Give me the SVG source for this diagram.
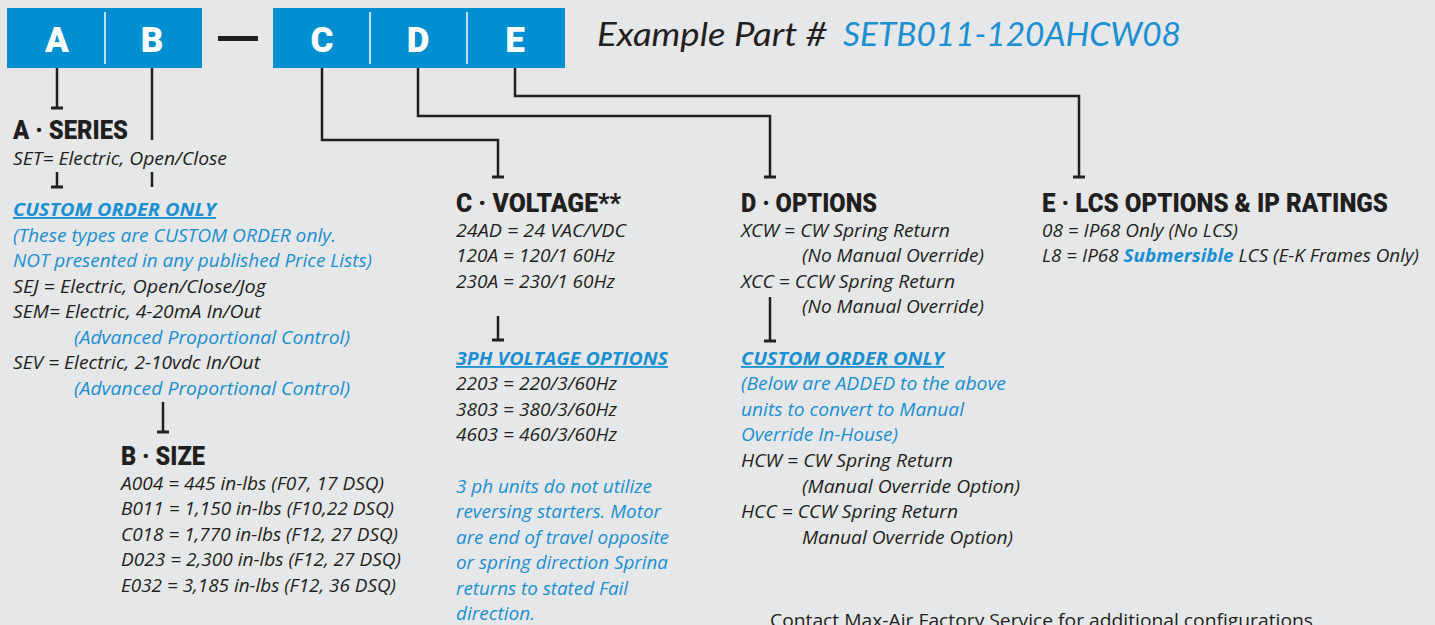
<svg xmlns="http://www.w3.org/2000/svg" width="1435" height="625" viewBox="0 0 1435 625">
<style>
.bg{fill:#e6e7e9}
.box{fill:#008fd0}
.div{stroke:#ffffff;stroke-width:1.5}
.let{font-family:Roboto,"Liberation Sans",sans-serif;font-weight:900;font-size:35px;fill:#ffffff;text-anchor:middle}
.hd{font-family:Roboto,"Liberation Sans",sans-serif;font-weight:900;font-size:26px;fill:#1f201d}
.t{font-family:"Open Sans","Liberation Sans",sans-serif;font-style:italic;font-size:18.5px;fill:#231f20}
.b{font-family:"Open Sans","Liberation Sans",sans-serif;font-style:italic;font-size:18.5px;fill:#1a8fd1}
.bu{font-family:"Open Sans","Liberation Sans",sans-serif;font-style:italic;font-weight:bold;font-size:18.5px;fill:#1a8fd1;text-decoration:underline}
.sb{font-weight:bold;fill:#1a8fd1}
.ex{font-family:Lato,"Liberation Sans",sans-serif;font-style:italic;font-size:32px}
.foot{font-family:"Open Sans","Liberation Sans",sans-serif;font-size:18px;fill:#231f20}
.cn{fill:none;stroke:#231f20;stroke-width:2.5}
.tb{stroke:#231f20;stroke-width:3}
</style>
<rect class="bg" x="0" y="0" width="1435" height="625"/>

<g id="code-box-ab">
<rect class="box" x="7" y="8" width="195" height="60"/>
<line class="div" x1="105" y1="12" x2="105" y2="64"/>
<text class="let" x="57" y="52">A</text>
<text class="let" x="152" y="52">B</text>
</g>
<g id="dash">
<rect x="218" y="36" width="40" height="5" fill="#1f201d"/>
</g>
<g id="code-box-cde">
<rect class="box" x="273" y="8" width="292" height="60"/>
<line class="div" x1="370" y1="12" x2="370" y2="64"/>
<line class="div" x1="467" y1="12" x2="467" y2="64"/>
<text class="let" x="322" y="52">C</text>
<text class="let" x="418" y="52">D</text>
<text class="let" x="515" y="52">E</text>
</g>
<g id="example">
<text class="ex" x="597" y="46" fill="#231f20" textLength="230" lengthAdjust="spacingAndGlyphs">Example Part #</text>
<text class="ex" x="843" y="46" fill="#1a8fd1" textLength="338" lengthAdjust="spacingAndGlyphs">SETB011-120AHCW08</text>
</g>

<g id="connectors">
<path class="cn" d="M57,68 V108"/>
<line class="tb" x1="51" y1="108" x2="63" y2="108"/>
<path class="cn" d="M152,68 V140"/>
<path class="cn" d="M57,172 V187"/>
<line class="tb" x1="51" y1="187" x2="63" y2="187"/>
<path class="cn" d="M152,172 V187"/>
<path class="cn" d="M163,402 V432"/>
<line class="tb" x1="157" y1="432" x2="169" y2="432"/>
<path class="cn" d="M322,68 V140 H498 V177"/>
<line class="tb" x1="492" y1="177" x2="504" y2="177"/>
<path class="cn" d="M418,68 V116 H770 V177"/>
<line class="tb" x1="764" y1="177" x2="776" y2="177"/>
<path class="cn" d="M515,68 V96 H1079 V177"/>
<line class="tb" x1="1073" y1="177" x2="1085" y2="177"/>
<path class="cn" d="M498,316 V340"/>
<line class="tb" x1="492" y1="340" x2="504" y2="340"/>
<path class="cn" d="M770,297 V341"/>
<line class="tb" x1="764" y1="341" x2="776" y2="341"/>
</g>

<g id="series-a">
<text class="hd" x="13" y="139" textLength="115" lengthAdjust="spacingAndGlyphs">A · SERIES</text>
<text class="t" x="13" y="165" textLength="214" lengthAdjust="spacingAndGlyphs">SET= Electric, Open/Close</text>
<text class="bu" x="13" y="216" textLength="203" lengthAdjust="spacingAndGlyphs">CUSTOM ORDER ONLY</text>
<text class="b" x="13" y="242" textLength="323" lengthAdjust="spacingAndGlyphs">(These types are CUSTOM ORDER only.</text>
<text class="b" x="13" y="267" textLength="359" lengthAdjust="spacingAndGlyphs">NOT presented in any published Price Lists)</text>
<text class="t" x="13" y="293" textLength="253" lengthAdjust="spacingAndGlyphs">SEJ = Electric, Open/Close/Jog</text>
<text class="t" x="13" y="318" textLength="248" lengthAdjust="spacingAndGlyphs">SEM= Electric, 4-20mA In/Out</text>
<text class="b" x="74" y="344" textLength="276" lengthAdjust="spacingAndGlyphs">(Advanced Proportional Control)</text>
<text class="t" x="13" y="369" textLength="247" lengthAdjust="spacingAndGlyphs">SEV = Electric, 2-10vdc In/Out</text>
<text class="b" x="74" y="395" textLength="276" lengthAdjust="spacingAndGlyphs">(Advanced Proportional Control)</text>
</g>

<g id="size-b">
<text class="hd" x="121" y="465" textLength="84" lengthAdjust="spacingAndGlyphs">B · SIZE</text>
<text class="t" x="121" y="490" textLength="263" lengthAdjust="spacingAndGlyphs">A004 = 445 in-lbs (F07, 17 DSQ)</text>
<text class="t" x="121" y="515" textLength="273" lengthAdjust="spacingAndGlyphs">B011 = 1,150 in-lbs (F10,22 DSQ)</text>
<text class="t" x="121" y="541" textLength="277" lengthAdjust="spacingAndGlyphs">C018 = 1,770 in-lbs (F12, 27 DSQ)</text>
<text class="t" x="121" y="566" textLength="280" lengthAdjust="spacingAndGlyphs">D023 = 2,300 in-lbs (F12, 27 DSQ)</text>
<text class="t" x="121" y="592" textLength="275" lengthAdjust="spacingAndGlyphs">E032 = 3,185 in-lbs (F12, 36 DSQ)</text>
</g>

<g id="voltage-c">
<text class="hd" x="456" y="212" textLength="165" lengthAdjust="spacingAndGlyphs">C · VOLTAGE**</text>
<text class="t" x="456" y="237" textLength="170" lengthAdjust="spacingAndGlyphs">24AD = 24 VAC/VDC</text>
<text class="t" x="456" y="262" textLength="159" lengthAdjust="spacingAndGlyphs">120A = 120/1 60Hz</text>
<text class="t" x="456" y="288" textLength="159" lengthAdjust="spacingAndGlyphs">230A = 230/1 60Hz</text>
<text class="bu" x="456" y="365" textLength="212" lengthAdjust="spacingAndGlyphs">3PH VOLTAGE OPTIONS</text>
<text class="t" x="456" y="390" textLength="161" lengthAdjust="spacingAndGlyphs">2203 = 220/3/60Hz</text>
<text class="t" x="456" y="416" textLength="161" lengthAdjust="spacingAndGlyphs">3803 = 380/3/60Hz</text>
<text class="t" x="456" y="441" textLength="161" lengthAdjust="spacingAndGlyphs">4603 = 460/3/60Hz</text>
<text class="b" x="456" y="493" textLength="196" lengthAdjust="spacingAndGlyphs">3 ph units do not utilize</text>
<text class="b" x="456" y="518" textLength="205" lengthAdjust="spacingAndGlyphs">reversing starters. Motor</text>
<text class="b" x="456" y="544" textLength="213" lengthAdjust="spacingAndGlyphs">are end of travel opposite</text>
<text class="b" x="456" y="569" textLength="212" lengthAdjust="spacingAndGlyphs">or spring direction Sprina</text>
<text class="b" x="456" y="595" textLength="172" lengthAdjust="spacingAndGlyphs">returns to stated Fail</text>
<text class="b" x="456" y="620" textLength="79" lengthAdjust="spacingAndGlyphs">direction.</text>
</g>

<g id="options-d">
<text class="hd" x="741" y="212" textLength="136" lengthAdjust="spacingAndGlyphs">D · OPTIONS</text>
<text class="t" x="741" y="237" textLength="209" lengthAdjust="spacingAndGlyphs">XCW = CW Spring Return</text>
<text class="t" x="802" y="262" textLength="182" lengthAdjust="spacingAndGlyphs">(No Manual Override)</text>
<text class="t" x="741" y="288" textLength="214" lengthAdjust="spacingAndGlyphs">XCC = CCW Spring Return</text>
<text class="t" x="802" y="313" textLength="182" lengthAdjust="spacingAndGlyphs">(No Manual Override)</text>
<text class="bu" x="741" y="365" textLength="203" lengthAdjust="spacingAndGlyphs">CUSTOM ORDER ONLY</text>
<text class="b" x="741" y="390" textLength="265" lengthAdjust="spacingAndGlyphs">(Below are ADDED to the above</text>
<text class="b" x="741" y="416" textLength="223" lengthAdjust="spacingAndGlyphs">units to convert to Manual</text>
<text class="b" x="741" y="441" textLength="157" lengthAdjust="spacingAndGlyphs">Override In-House)</text>
<text class="t" x="741" y="467" textLength="212" lengthAdjust="spacingAndGlyphs">HCW = CW Spring Return</text>
<text class="t" x="802" y="493" textLength="218" lengthAdjust="spacingAndGlyphs">(Manual Override Option)</text>
<text class="t" x="741" y="518" textLength="217" lengthAdjust="spacingAndGlyphs">HCC = CCW Spring Return</text>
<text class="t" x="802" y="544" textLength="211" lengthAdjust="spacingAndGlyphs">Manual Override Option)</text>
</g>

<g id="lcs-e">
<text class="hd" x="1042" y="212" textLength="346" lengthAdjust="spacingAndGlyphs">E · LCS OPTIONS &amp; IP RATINGS</text>
<text class="t" x="1042" y="237" textLength="196" lengthAdjust="spacingAndGlyphs">08 = IP68 Only (No LCS)</text>
<text class="t" x="1042" y="262" textLength="377" lengthAdjust="spacingAndGlyphs">L8 = IP68 <tspan class="sb">Submersible</tspan> LCS (E-K Frames Only)</text>
</g>

<g id="footer">
<text class="foot" x="770" y="627" textLength="543" lengthAdjust="spacingAndGlyphs">Contact Max-Air Factory Service for additional configurations</text>
</g>
</svg>
